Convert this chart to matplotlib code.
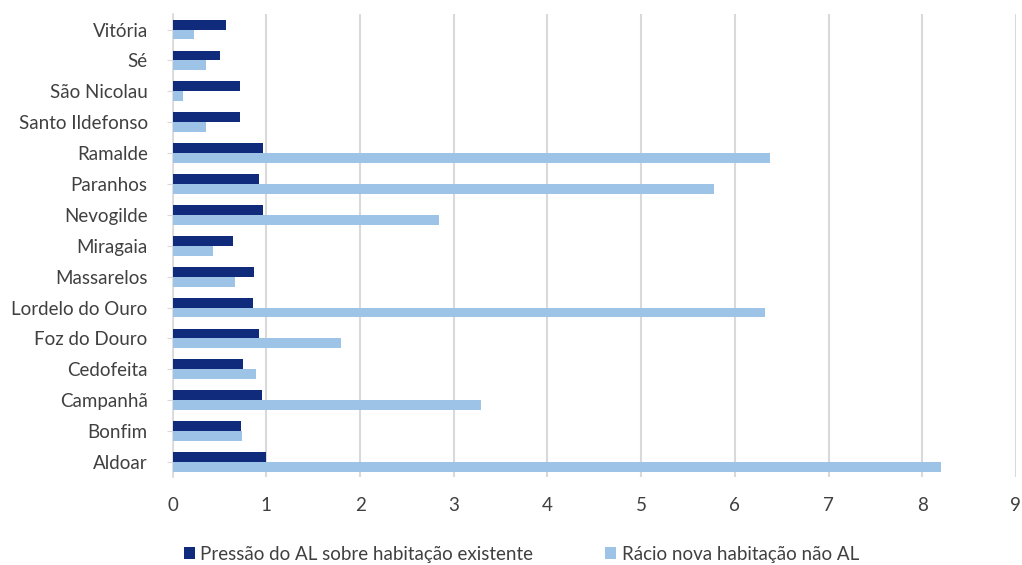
import numpy as np
import matplotlib as mpl
import matplotlib.pyplot as plt

mpl.rcParams.update({
    "font.family": ["Lato", "DejaVu Sans"],
    "font.size": 13.5,
})

freguesias = ["Aldoar", "Bonfim", "Campanhã", "Cedofeita", "Foz do Douro",
              "Lordelo do Ouro", "Massarelos", "Miragaia", "Nevogilde", "Paranhos",
              "Ramalde", "Santo Ildefonso", "São Nicolau", "Sé", "Vitória"]
pressao_al = [1.00, 0.73, 0.95, 0.75, 0.92, 0.86, 0.87, 0.64, 0.96, 0.92,
              0.96, 0.72, 0.72, 0.50, 0.57]
racio_nova = [8.20, 0.74, 3.29, 0.89, 1.80, 6.32, 0.66, 0.43, 2.84, 5.78,
              6.38, 0.35, 0.11, 0.35, 0.23]
x_ticks = list(range(0, 10))

DARK = "#112b7c"
LIGHT = "#9dc3e6"
TEXT = "#404040"

fig = plt.figure(figsize=(10.22, 5.65), dpi=100)
ax = fig.add_axes([0.169, 0.155, 0.825, 0.82])

y = np.arange(len(freguesias))
h = 0.32
ax.barh(y + h / 2, pressao_al, height=h, color=DARK, label="Pressão do AL sobre habitação existente", zorder=3)
ax.barh(y - h / 2, racio_nova, height=h, color=LIGHT, label="Rácio nova habitação não AL", zorder=3)

ax.set_xlim(0, 9)
ax.set_ylim(-0.5, len(freguesias) - 0.5)
ax.set_xticks(x_ticks)
ax.set_yticks(y)
ax.set_yticklabels(freguesias)
ax.xaxis.grid(True, color="#d9d9d9", linewidth=1.5, zorder=0)
ax.set_axisbelow(True)

for s in ["top", "right", "bottom"]:
    ax.spines[s].set_visible(False)
ax.spines["left"].set_color("#d9d9d9")
ax.spines["left"].set_linewidth(1.2)

ax.tick_params(axis="x", length=0, pad=14, labelsize=13.5, colors=TEXT)
ax.tick_params(axis="y", length=4, color="#d9d9d9", pad=14, labelsize=13.5, colors=TEXT)

fig.legend(loc="lower center", bbox_to_anchor=(0.51, -0.026), ncol=2, frameon=False,
           handlelength=0.6, handleheight=0.6, handletextpad=0.3, columnspacing=3.8,
           fontsize=13.5, labelcolor=TEXT)

fig.savefig("out.png", dpi=100)
